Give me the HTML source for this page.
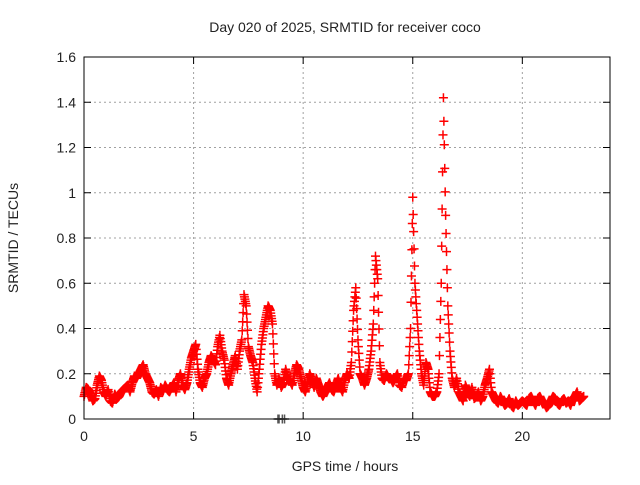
<!DOCTYPE html>
<html><head><meta charset="utf-8"><style>
body{margin:0;background:#fff}
text{font-family:"Liberation Sans",sans-serif;font-size:14px;fill:#222}
</style></head><body>
<svg id="chart" width="640" height="480" xmlns="http://www.w3.org/2000/svg">
<text x="345" y="32" text-anchor="middle">Day 020 of 2025, SRMTID for receiver coco</text>
<text x="345" y="471" text-anchor="middle">GPS time / hours</text>
<text x="18" y="238" text-anchor="middle" transform="rotate(-90 18 238)">SRMTID / TECUs</text>
<g id="grid"></g>
<g id="ticks"></g>
<g id="marks"></g>
<rect x="84" y="57" width="526" height="362" fill="none" stroke="#000" stroke-width="1"/>
</svg>
<script>
const xTicks=[0,5,10,15,20];
const yTicks=[0,0.2,0.4,0.6,0.8,1,1.2,1.4,1.6];
const yTickLabels=["0","0.2","0.4","0.6","0.8","1","1.2","1.4","1.6"];
const values=[
.10,.14,.13,.11,.08,.09,.15,.19,.17,.12,
.10,.13,.08,.07,.11,.09,.10,.12,.13,.14,
.15,.12,.16,.19,.18,.20,.22,.24,.20,.18,
.16,.12,.11,.13,.10,.14,.12,.15,.13,.12,
.14,.16,.12,.17,.20,.15,.13,.16,.22,.27,
.30,.33,.22,.16,.14,.18,.20,.25,.28,.26,
.24,.32,.37,.30,.26,.18,.15,.20,.24,.28,
.22,.30,.35,.55,.50,.32,.28,.25,.18,.12,
.22,.33,.40,.45,.50,.48,.42,.20,.15,.18,
.14,.16,.22,.18,.17,.15,.20,.24,.22,.18,
.14,.12,.16,.20,.17,.14,.18,.15,.12,.10,
.12,.14,.16,.13,.12,.15,.18,.14,.12,.17,
.20,.18,.25,.48,.58,.35,.20,.18,.15,.18,
.22,.30,.42,.72,.62,.25,.18,.17,.20,.18,
.18,.16,.18,.20,.15,.14,.18,.17,.20,.40,
.98,.60,.45,.30,.20,.15,.25,.22,.12,.10,
.10,.12,.20,.60,1.42,.90,.50,.30,.18,.14,
.18,.12,.10,.08,.15,.12,.10,.14,.09,.10,
.12,.08,.10,.15,.18,.22,.12,.10,.08,.07,
.10,.08,.06,.07,.09,.06,.05,.08,.06,.07,
.08,.07,.06,.09,.10,.08,.06,.09,.10,.08,
.07,.05,.06,.08,.10,.09,.07,.06,.08,.09,
.07,.08,.06,.09,.10,.12,.08,.09,.10];
const startTime=0, stepHours=0.1;
const zeroTimes=[8.85,8.9,9.05,9.15];
const zeroValues=[0,0,0,0];

const X0=84,X1=610,Y0=419,Y1=57,XMAX=24,YMAX=1.6;
const sx=t=>X0+(X1-X0)*t/XMAX;
const sy=v=>Y0-(Y0-Y1)*v/YMAX;
const NS="http://www.w3.org/2000/svg";
const grid=document.getElementById('grid'),ticks=document.getElementById('ticks'),marks=document.getElementById('marks');
function line(p,x1,y1,x2,y2,st,da){const l=document.createElementNS(NS,'line');l.setAttribute('x1',x1);l.setAttribute('y1',y1);l.setAttribute('x2',x2);l.setAttribute('y2',y2);l.setAttribute('stroke',st);if(da)l.setAttribute('stroke-dasharray',da);p.appendChild(l);return l;}
function txt(p,x,y,s,a){const t=document.createElementNS(NS,'text');t.setAttribute('x',x);t.setAttribute('y',y);t.setAttribute('text-anchor',a);t.textContent=s;p.appendChild(t);return t;}
xTicks.forEach(v=>{const x=sx(v);
 if(v>0){const g=line(grid,x,Y1,x,Y0,'#a0a0a0','2,3');}
 const a=line(ticks,x,Y0,x,Y0-7,'#000');
 const b=line(ticks,x,Y1,x,Y1+7,'#000');
 const t=txt(ticks,x,Y0+22,String(v),'middle');});
yTicks.forEach((v,i)=>{const y=sy(v);
 if(v>0&&v<YMAX){const g=line(grid,X0,y,X1,y,'#a0a0a0','2,3');}
 const a=line(ticks,X0,y,X0+7,y,'#000');
 const b=line(ticks,X1,y,X1-7,y,'#000');
 const t=txt(ticks,X0-8,y+5,yTickLabels[i],'end');});
function plus(x,y,c,name){const p=document.createElementNS(NS,'path');p.setAttribute('d',`M${x-4.5} ${y}h9M${x} ${y-4.5}v9`);p.setAttribute('stroke',c);p.setAttribute('stroke-width','1.5');p.setAttribute('fill','none');
 
 
 marks.appendChild(p);}
zeroTimes.forEach((t,i)=>plus(sx(t),sy(zeroValues[i]),'#555','zero-marker'));
const SUB=5;
values.forEach((v,i)=>{const t=startTime+i*stepHours;
 plus(sx(t),sy(v),'#ff0000','srmtid-point');
 if(i<values.length-1){const w=values[i+1];
  for(let k=1;k<SUB;k++){plus(sx(t+stepHours*k/SUB),sy(v+(w-v)*k/SUB),'#ff0000','srmtid-point');}}});
</script>
</body></html>
